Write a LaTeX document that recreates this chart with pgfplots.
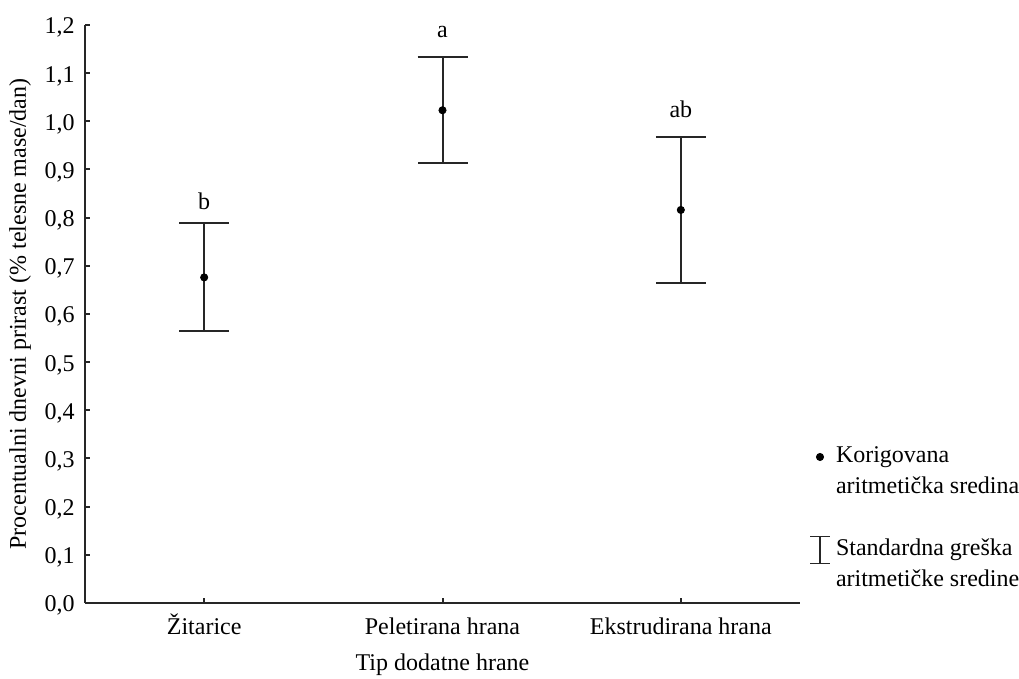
\documentclass[border=0pt,12pt]{standalone}
\usepackage{pgfplots}
\pgfplotsset{compat=1.18}
\usepackage{pgfplotstable}
\usepackage{fontspec}
\setmainfont{Liberation Serif}
\pgfplotstableread{
x y err
0 0.676 0.112
1 1.023 0.110
2 0.816 0.1515
}\datatable
\begin{document}
\begin{tikzpicture}
\useasboundingbox (0,0) rectangle (509.5pt,339.5pt);
\begin{axis}[
  at={(42.5pt,38pt)}, anchor=south west,
  scale only axis, width=357.5pt, height=289pt,
  xmin=-0.5, xmax=2.5, ymin=0, ymax=1.2,
  axis x line=bottom, axis y line=left,
  axis line style={-, line width=1.2pt, black!85},
  xtick={0,1,2},
  xticklabels={Žitarice, Peletirana hrana, Ekstrudirana hrana},
  ytick={0,0.1,0.2,0.3,0.4,0.5,0.6,0.7,0.8,0.9,1.0,1.1,1.2},
  tick align=inside, major tick length=2.5pt,
  tick style={line width=1pt, black!85},
  xticklabel style={anchor=base, inner sep=0pt, yshift=-16pt},
  yticklabel style={anchor=base east, inner sep=0pt, xshift=-5pt, yshift=-4.5pt,
    /pgf/number format/.cd, use comma, fixed, fixed zerofill, precision=1, assume math mode=true},
  xlabel={Tip dodatne hrane},
  xlabel style={at={([yshift=-34pt]axis description cs:0.5,0)}, anchor=base, inner sep=0pt},
  ylabel={Procentualni dnevni prirast (\% telesne mase/dan)},
  ylabel style={at={([xshift=-32.5pt]axis description cs:0,0.5)}, anchor=center, inner sep=0pt},
  legend style={at={(axis description cs:1.01399,0.27163)}, anchor=north west,
    draw=none, fill=none, inner sep=0pt, outer sep=0pt,
    column sep=3pt, row sep=4.5pt,
    nodes={text height=8.5pt, text depth=2.5pt, inner sep=0pt}},
  legend cell align=left,
  clip=false,
]
\addplot[only marks, mark=*, mark size=1.8pt, black,
  legend image code/.code={\path[draw=none, fill=none] (-5pt,0) -- (5pt,0); \fill[black] (0,0) circle (1.8pt);},
  error bars/.cd, y dir=both, y explicit,
  error bar style={line width=1pt, black!85},
  error mark options={rotate=90, line width=1pt, mark size=12.5pt, black!85}]
  table[x=x, y=y, y error=err] {\datatable};
\addlegendentry{Korigovana}
\addlegendimage{empty legend}
\addlegendentry{aritmetička sredina}
\addlegendimage{empty legend}
\addlegendentry{\phantom{x}}
\addlegendimage{legend image code/.code={\path[draw=none, fill=none] (-5pt,0) -- (5pt,0);
  \draw[overlay, line width=0.7pt, black!85] (-5pt,6.75pt) -- (5pt,6.75pt) (0,6.75pt) -- (0,-6.75pt) (-5pt,-6.75pt) -- (5pt,-6.75pt);}}
\addlegendentry{Standardna greška}
\addlegendimage{empty legend}
\addlegendentry{aritmetičke sredine}
\node[anchor=base] at (axis cs:0,0.816) {b};
\node[anchor=base] at (axis cs:1,1.173) {a};
\node[anchor=base] at (axis cs:2,1.007) {ab};
\end{axis}
\end{tikzpicture}
\end{document}
